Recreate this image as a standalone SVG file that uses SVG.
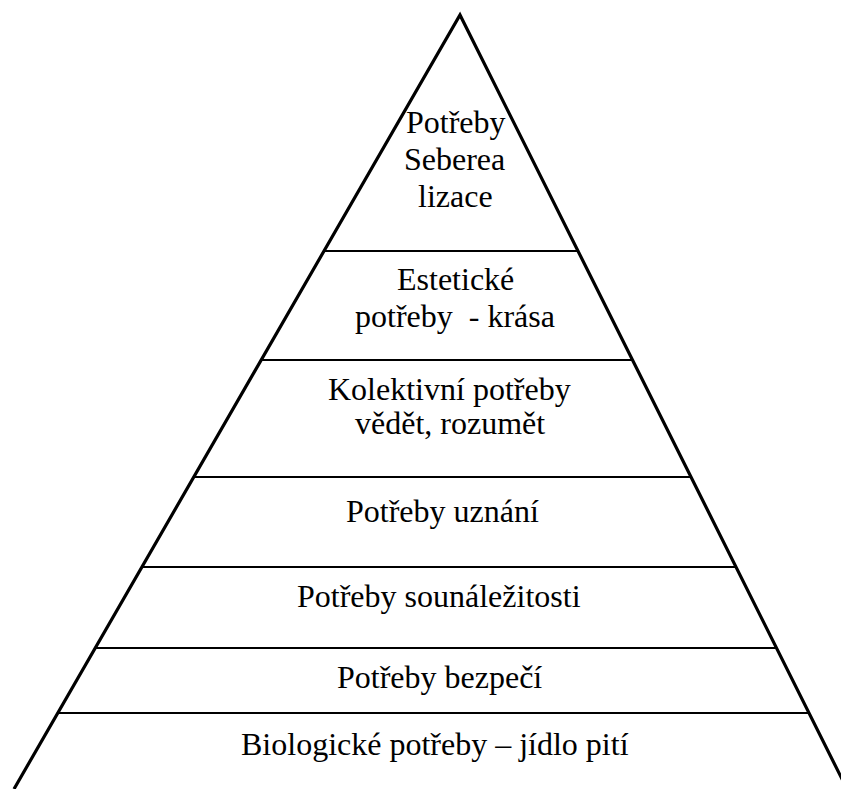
<svg xmlns="http://www.w3.org/2000/svg" width="841" height="789" viewBox="0 0 841 789">
<rect width="841" height="789" fill="#fff"/>
<g id="pyramid" stroke="#000" stroke-width="3.2" fill="none">
<polyline points="14,789 460,15 847,789"/>
</g>
<g id="separators" stroke="#000" stroke-width="2.2">
<line x1="324" y1="251" x2="578" y2="251"/>
<line x1="261" y1="360" x2="633" y2="360"/>
<line x1="194" y1="477" x2="691" y2="477"/>
<line x1="142" y1="567" x2="736" y2="567"/>
<line x1="95" y1="648" x2="777" y2="648"/>
<line x1="58" y1="713" x2="809" y2="713"/>
</g>
<text id="level-7a" x="406" y="133" font-size="32" font-family="Liberation Serif" style="font-family:'Liberation Serif'">Potřeby</text>
<text id="level-7b" x="404" y="170" font-size="32" font-family="Liberation Serif" style="font-family:'Liberation Serif'">Seberea</text>
<text id="level-7c" x="418" y="207" font-size="32" font-family="Liberation Serif" style="font-family:'Liberation Serif'">lizace</text>
<text id="level-6a" x="397" y="290" font-size="32" font-family="Liberation Serif" style="font-family:'Liberation Serif'">Estetické</text>
<text id="level-6b" x="355" y="327" font-size="32" font-family="Liberation Serif" style="font-family:'Liberation Serif'">potřeby&#160; - krása</text>
<text id="level-5a" x="328" y="400" font-size="32" font-family="Liberation Serif" style="font-family:'Liberation Serif'">Kolektivní potřeby</text>
<text id="level-5b" x="355" y="434" font-size="32" font-family="Liberation Serif" style="font-family:'Liberation Serif'">vědět, rozumět</text>
<text id="level-4" x="346" y="522" font-size="32" font-family="Liberation Serif" style="font-family:'Liberation Serif'">Potřeby uznání</text>
<text id="level-3" x="297" y="607" font-size="32" font-family="Liberation Serif" style="font-family:'Liberation Serif'">Potřeby sounáležitosti</text>
<text id="level-2" x="337" y="688" font-size="32" font-family="Liberation Serif" style="font-family:'Liberation Serif'">Potřeby bezpečí</text>
<text id="level-1" x="241" y="755" font-size="32" font-family="Liberation Serif" style="font-family:'Liberation Serif'">Biologické potřeby – jídlo pití</text>
</svg>
